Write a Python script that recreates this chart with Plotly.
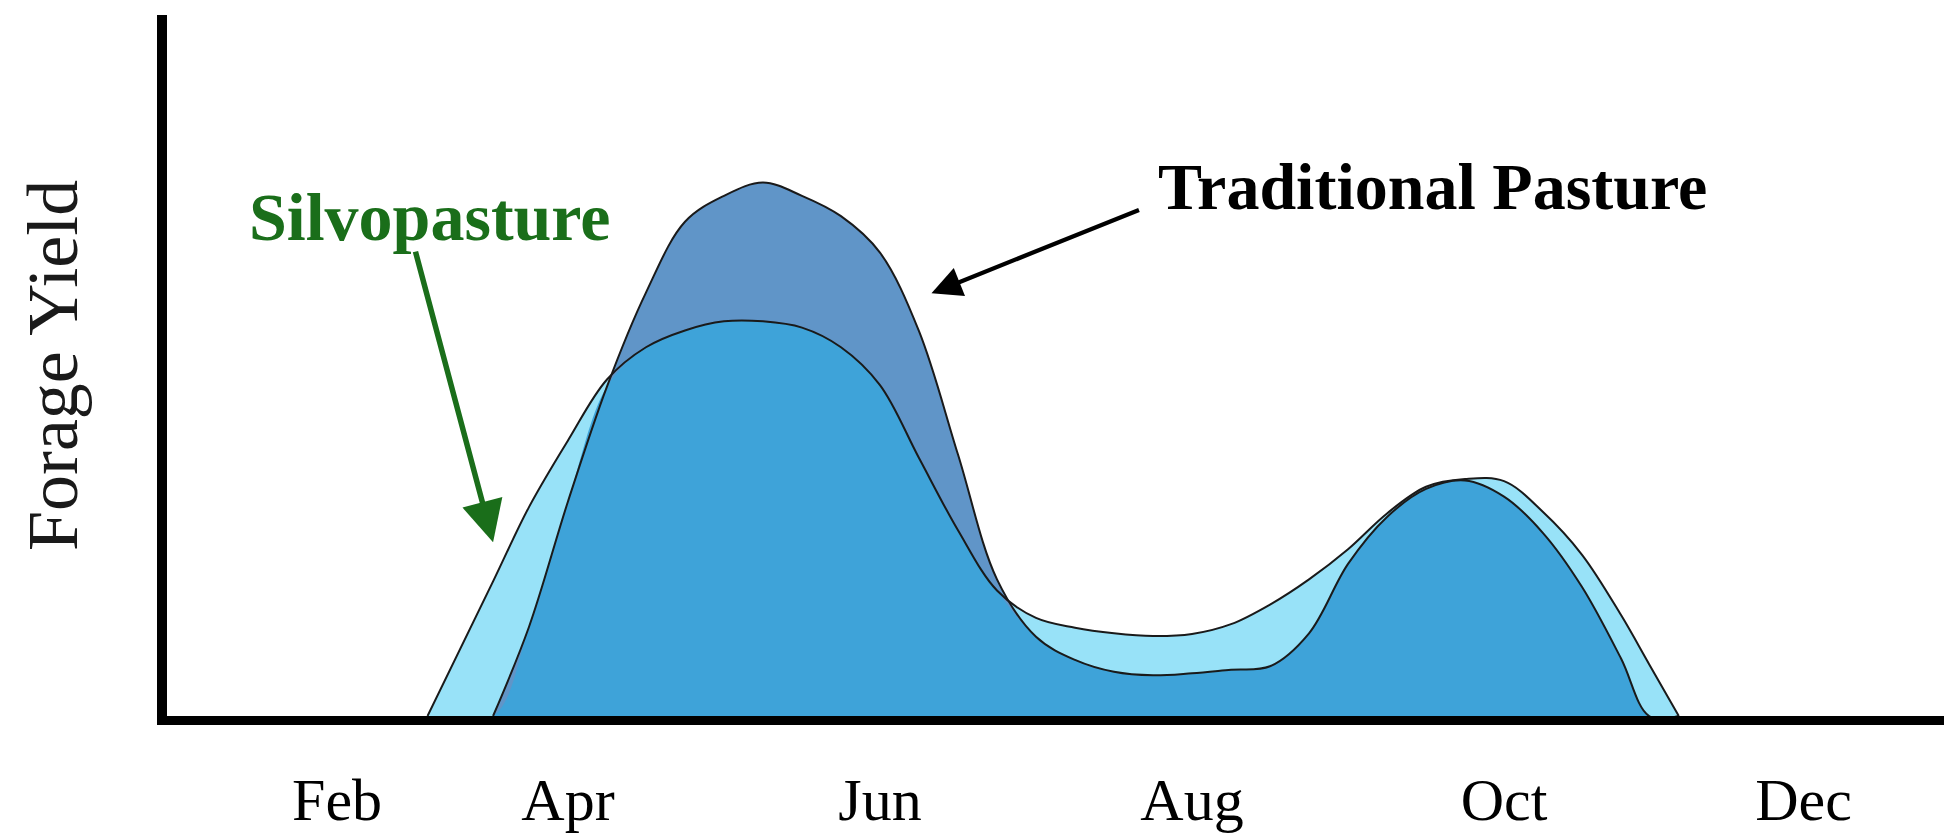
import numpy as np
import plotly.graph_objects as go

# month position along the season (shared by both curves)
months = [3.10, 3.52, 3.75, 4.00, 4.25, 4.50, 4.75, 5.00, 5.25, 5.50, 5.75,
          6.00, 6.25, 6.50, 6.75, 7.00, 7.25, 7.50, 7.75, 8.00, 8.25, 8.50,
          8.75, 9.00, 9.25, 9.50, 9.75, 10.00, 10.25, 10.50, 10.75, 10.93, 11.12]

silvopasture = [0, 19.2, 29.8, 39.3, 48.0, 52.6, 55.0, 56.3, 56.3, 55.4, 52.6,
                47.2, 36.8, 26.5, 17.9, 14.0, 12.6, 11.8, 11.4, 11.7, 13.1, 15.9,
                19.5, 23.8, 28.9, 32.7, 33.8, 33.5, 29.1, 23.0, 14.4, 7.4, 0]

traditional = [0, 0, 12.7, 30.6, 47.0, 60.4, 70.5, 74.2, 76.1, 74.2, 71.3,
               66.1, 54.9, 37.3, 19.5, 11.3, 8.0, 6.3, 5.8, 6.1, 6.6, 7.1,
               11.8, 21.7, 28.4, 32.4, 33.6, 31.3, 26.1, 18.4, 8.2, 0, 0]

tick_pos = [2.52, 4, 6, 8, 10, 11.92]
tick_labels = ["Feb", "Apr", "Jun", "Aug", "Oct", "Dec"]

LIGHT = "rgb(152, 226, 248)"
STEEL = "rgb(96, 149, 200)"
MID = "rgb(62, 163, 217)"
OUTLINE = "#1a1a1a"
GREEN = "#1a6e1a"
SERIF = "Liberation Serif, Times New Roman, serif"
SPLINE = {"shape": "spline", "smoothing": 1.0}

overlap = np.minimum(silvopasture, traditional)

fig = go.Figure()

# filled areas: silvopasture only, traditional only, then the shared part
areas = [
    (months, silvopasture, LIGHT),
    (months[1:], traditional[1:], STEEL),
    (months, overlap, MID),
]
for xs, ys, col in areas:
    fig.add_trace(
        go.Scatter(
            x=xs,
            y=ys,
            mode="lines",
            line={"width": 0, **SPLINE},
            fill="tozeroy",
            fillcolor=col,
            hoverinfo="skip",
            showlegend=False,
        )
    )

outlines = [
    (months, silvopasture, "Silvopasture"),
    (months[1:], traditional[1:], "Traditional Pasture"),
]
for xs, ys, name in outlines:
    fig.add_trace(
        go.Scatter(
            x=xs,
            y=ys,
            mode="lines",
            line={"color": OUTLINE, "width": 2, **SPLINE},
            name=name,
            showlegend=False,
        )
    )

# arrows pointing at each curve
fig.add_annotation(
    x=3.52, y=24.8, xref="x", yref="y",
    ax=-78, ay=-292, axref="pixel", ayref="pixel",
    text="", showarrow=True,
    arrowhead=2, arrowsize=1.5, arrowwidth=5.5, arrowcolor=GREEN,
)
fig.add_annotation(
    x=6.33, y=60.3, xref="x", yref="y",
    ax=209, ay=-84, axref="pixel", ayref="pixel",
    text="", showarrow=True,
    arrowhead=2, arrowsize=1.4, arrowwidth=4.3, arrowcolor="black",
)
fig.add_annotation(
    x=(429 - 167) / 1777, y=(716 - 217) / 701, xref="paper", yref="paper",
    xanchor="center", yanchor="middle",
    text="<b>Silvopasture</b>", showarrow=False,
    font={"family": SERIF, "size": 68, "color": GREEN},
)
fig.add_annotation(
    x=(1432 - 167) / 1777, y=(716 - 186) / 701, xref="paper", yref="paper",
    xanchor="center", yanchor="middle",
    text="<b>Traditional Pasture</b>", showarrow=False,
    font={"family": SERIF, "size": 66, "color": "black"},
)

fig.update_layout(
    width=1944,
    height=836,
    margin={"l": 167, "r": 0, "t": 15, "b": 120},
    plot_bgcolor="white",
    paper_bgcolor="white",
    showlegend=False,
    xaxis={
        "range": [1.43, 12.82],
        "automargin": False,
        "showgrid": False,
        "zeroline": False,
        "showline": True,
        "linecolor": "black",
        "linewidth": 9,
        "tickvals": tick_pos,
        "ticktext": tick_labels,
        "ticks": "",
        "ticklabelstandoff": 23,
        "tickfont": {"family": SERIF, "size": 60, "color": "black"},
    },
    yaxis={
        "range": [0, 100],
        "automargin": False,
        "showgrid": False,
        "zeroline": False,
        "showline": True,
        "linecolor": "black",
        "linewidth": 10,
        "showticklabels": False,
        "ticks": "",
        "title": {
            "text": "Forage Yield",
            "standoff": 60,
            "font": {"family": SERIF, "size": 72, "color": "#1a1a1a"},
        },
    },
)

# the page body keeps a default 8px margin; drop it so the figure fills the window
fig.write_html(
    "out.html",
    config={"displayModeBar": False},
    post_script="document.body.style.margin = '0px';",
)
